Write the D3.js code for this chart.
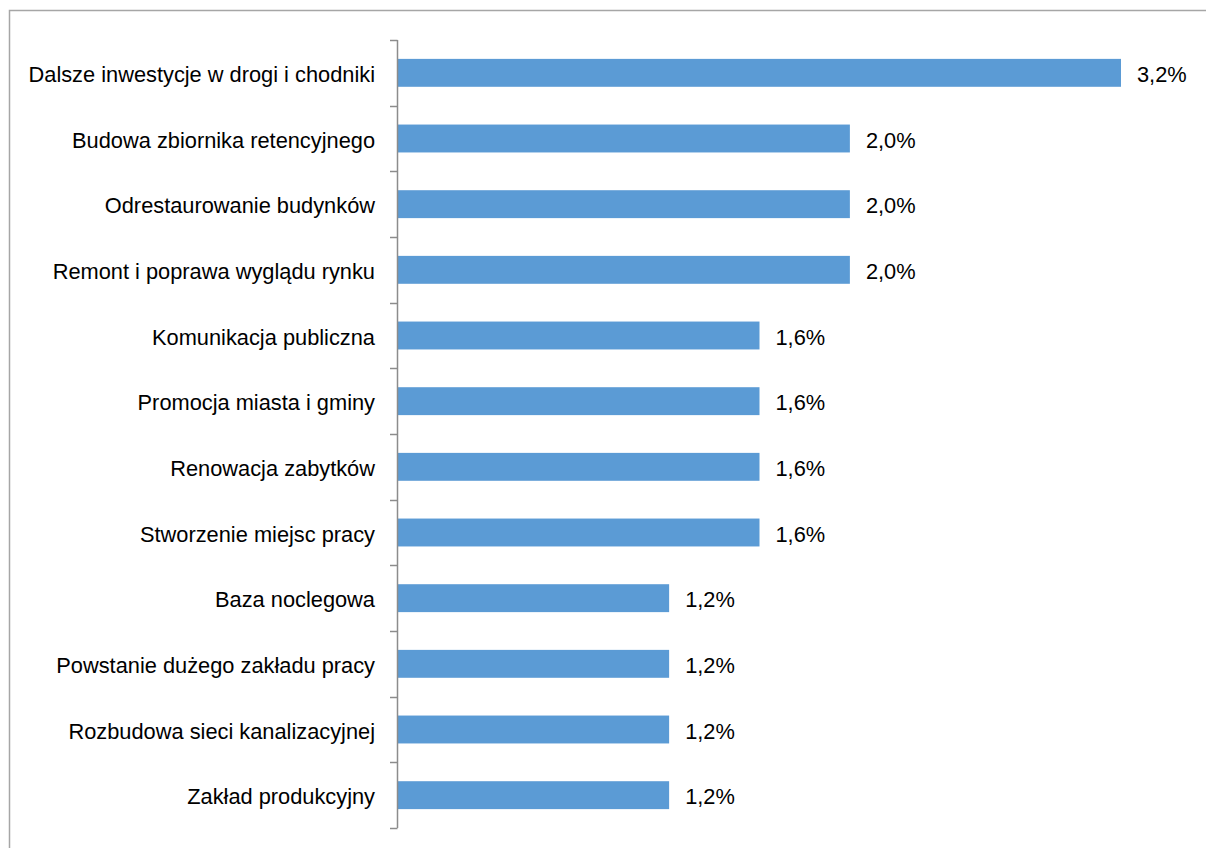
<!DOCTYPE html>
<html><head><meta charset="utf-8">
<script src="https://cdn.jsdelivr.net/npm/d3@7"></script>
<style>body{margin:0;background:#fff}svg{display:block}</style>
</head><body><svg id="c" width="1206" height="848"></svg>
<script>
const categories = ["Dalsze inwestycje w drogi i chodniki","Budowa zbiornika retencyjnego","Odrestaurowanie budynków","Remont i poprawa wyglądu rynku","Komunikacja publiczna","Promocja miasta i gminy","Renowacja zabytków","Stworzenie miejsc pracy","Baza noclegowa","Powstanie dużego zakładu pracy","Rozbudowa sieci kanalizacyjnej","Zakład produkcyjny"];
const values = [3.2,2.0,2.0,2.0,1.6,1.6,1.6,1.6,1.2,1.2,1.2,1.2];
const valueLabels = ["3,2%","2,0%","2,0%","2,0%","1,6%","1,6%","1,6%","1,6%","1,2%","1,2%","1,2%","1,2%"];

const svg = d3.select("#c");
const font = "'Liberation Sans', Arial, sans-serif";
svg.append("rect").attr("x",9.5).attr("y",10.5).attr("width",1300).attr("height",900)
  .attr("fill","none").attr("stroke","#a6a6a6").attr("stroke-width",1.5);

const x = d3.scaleLinear().domain([0,3.2]).range([398,1121]);
const y = d3.scaleBand().domain(categories).range([40,828]).paddingInner(0.575).paddingOuter(0.2875);

const g = svg.append("g");
g.selectAll("rect.bar").data(categories).join("rect").attr("class","bar")
  .attr("x",x(0)).attr("y",d=>y(d)).attr("height",y.bandwidth())
  .attr("width",(d,i)=>x(values[i])-x(0)).attr("fill","#5b9bd5");

const bounds = d3.range(categories.length+1).map(i=>40+i*(788/categories.length));
g.append("line").attr("x1",397.5).attr("x2",397.5).attr("y1",40).attr("y2",828).attr("stroke","#8c8c8c").attr("stroke-width",1.5);
g.selectAll("line.tick").data(bounds).join("line").attr("class","tick")
  .attr("x1",390).attr("x2",397.5).attr("y1",d=>Math.round(d)+0.5).attr("y2",d=>Math.round(d)+0.5)
  .attr("stroke","#8c8c8c").attr("stroke-width",1.5);

g.selectAll("text.cat").data(categories).join("text").attr("class","cat")
  .attr("x",375).attr("y",d=>y(d)+y.bandwidth()/2).attr("dy","0.42em")
  .attr("text-anchor","end").attr("font-family",font).attr("font-size",21.8).attr("fill","#000")
  .text(d=>d);
g.selectAll("text.val").data(categories).join("text").attr("class","val")
  .attr("x",(d,i)=>x(values[i])+16).attr("y",d=>y(d)+y.bandwidth()/2).attr("dy","0.42em")
  .attr("font-family",font).attr("font-size",21.8).attr("fill","#000")
  .text((d,i)=>valueLabels[i]);
</script></body></html>
